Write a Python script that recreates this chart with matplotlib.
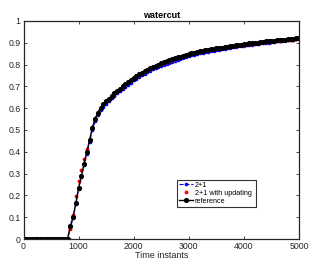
import numpy as np
import matplotlib
matplotlib.use("Agg")
import matplotlib.pyplot as plt

plt.rcParams['font.family'] = ['Liberation Sans', 'DejaVu Sans']

# time instants, one sample every 50
t = np.arange(0, 5001, 50)

# reference watercut
ref = [0.0] * 17 + [
    0.060, 0.100, 0.165, 0.235, 0.290, 0.345, 0.400, 0.455, 0.510, 0.552,
    0.580, 0.603, 0.618, 0.632, 0.644, 0.656, 0.668, 0.679, 0.690, 0.700,
    0.710, 0.719, 0.728, 0.740, 0.747, 0.755, 0.763, 0.770, 0.777, 0.783,
    0.789, 0.795, 0.800, 0.805, 0.810, 0.815, 0.819, 0.824, 0.828, 0.833,
    0.837, 0.841, 0.845, 0.849, 0.852, 0.855, 0.858, 0.861, 0.863, 0.866,
    0.868, 0.870, 0.872, 0.874, 0.876, 0.878, 0.880, 0.882, 0.884, 0.886,
    0.888, 0.890, 0.892, 0.894, 0.895, 0.897, 0.898, 0.900, 0.901, 0.903,
    0.904, 0.906, 0.907, 0.909, 0.910, 0.911, 0.912, 0.914, 0.915, 0.916,
    0.917, 0.918, 0.920, 0.921,
]

# 2+1
wc_21 = [0.0] * 17 + [
    0.052, 0.095, 0.160, 0.228, 0.283, 0.338, 0.392, 0.447, 0.500, 0.541,
    0.569, 0.592, 0.607, 0.621, 0.633, 0.645, 0.657, 0.668, 0.679, 0.689,
    0.699, 0.708, 0.717, 0.728, 0.736, 0.744, 0.752, 0.759, 0.766, 0.772,
    0.778, 0.784, 0.789, 0.794, 0.799, 0.804, 0.809, 0.814, 0.818, 0.823,
    0.827, 0.831, 0.835, 0.839, 0.842, 0.845, 0.848, 0.851, 0.854, 0.857,
    0.859, 0.861, 0.864, 0.866, 0.869, 0.871, 0.873, 0.875, 0.877, 0.879,
    0.881, 0.883, 0.885, 0.887, 0.889, 0.891, 0.892, 0.894, 0.895, 0.897,
    0.898, 0.900, 0.901, 0.903, 0.904, 0.906, 0.908, 0.910, 0.911, 0.912,
    0.913, 0.914, 0.916, 0.917,
]

# 2+1 with updating
wc_21_upd = [0.0] * 17 + [
    0.045, 0.112, 0.195, 0.265, 0.318, 0.368, 0.412, 0.460, 0.512, 0.553,
    0.581, 0.603, 0.617, 0.631, 0.643, 0.655, 0.667, 0.678, 0.689, 0.699,
    0.709, 0.718, 0.727, 0.738, 0.746, 0.754, 0.762, 0.769, 0.776, 0.782,
    0.788, 0.794, 0.799, 0.804, 0.809, 0.814, 0.818, 0.823, 0.827, 0.832,
    0.836, 0.840, 0.844, 0.848, 0.851, 0.854, 0.857, 0.860, 0.862, 0.865,
    0.867, 0.869, 0.871, 0.873, 0.875, 0.877, 0.879, 0.881, 0.883, 0.885,
    0.887, 0.889, 0.891, 0.892, 0.893, 0.895, 0.896, 0.898, 0.899, 0.901,
    0.902, 0.904, 0.905, 0.906, 0.907, 0.908, 0.909, 0.911, 0.912, 0.913,
    0.914, 0.915, 0.917, 0.918,
]

fig = plt.figure(figsize=(3.33, 2.76), dpi=100)
ax = fig.add_axes([0.0706, 0.134, 0.827, 0.790])

ax.plot(t, wc_21, '--', color='blue', lw=0.8, marker='.', ms=3.2, label='2+1')
ax.plot(t, wc_21_upd, linestyle='none', color='red', marker='.', ms=3.5,
        label='2+1 with updating')
ax.plot(t, ref, '-', color='black', lw=1.0, marker='o', ms=2.7,
        label='reference')

ax.set_xlim(0, 5000)
ax.set_ylim(0, 1)
ax.set_xticks(np.arange(0, 5001, 1000))
ax.set_yticks(np.arange(0, 1.01, 0.1))
ax.set_yticklabels(['0', '0.1', '0.2', '0.3', '0.4', '0.5', '0.6', '0.7',
                    '0.8', '0.9', '1'])
ax.tick_params(direction='in', top=True, right=True, length=2.5, width=0.6,
               labelsize=6.3, colors='#262626', pad=2)
for s in ax.spines.values():
    s.set_linewidth(0.9)
    s.set_color('#262626')

ax.set_title('watercut', fontsize=6.5, fontweight='bold', pad=2)
ax.set_xlabel('Time instants', fontsize=6.5, labelpad=0, color='#262626')

leg = ax.legend(loc='lower left', bbox_to_anchor=(0.532, 0.251, 0.237, 0.111),
                bbox_transform=fig.transFigure, mode='expand', fontsize=5.2,
                frameon=True, fancybox=False, edgecolor='black',
                handlelength=1.9, handletextpad=0.3, borderpad=0.25,
                labelspacing=0.15, borderaxespad=0)
leg.get_frame().set_linewidth(0.8)

fig.savefig('out.png', dpi=100)
